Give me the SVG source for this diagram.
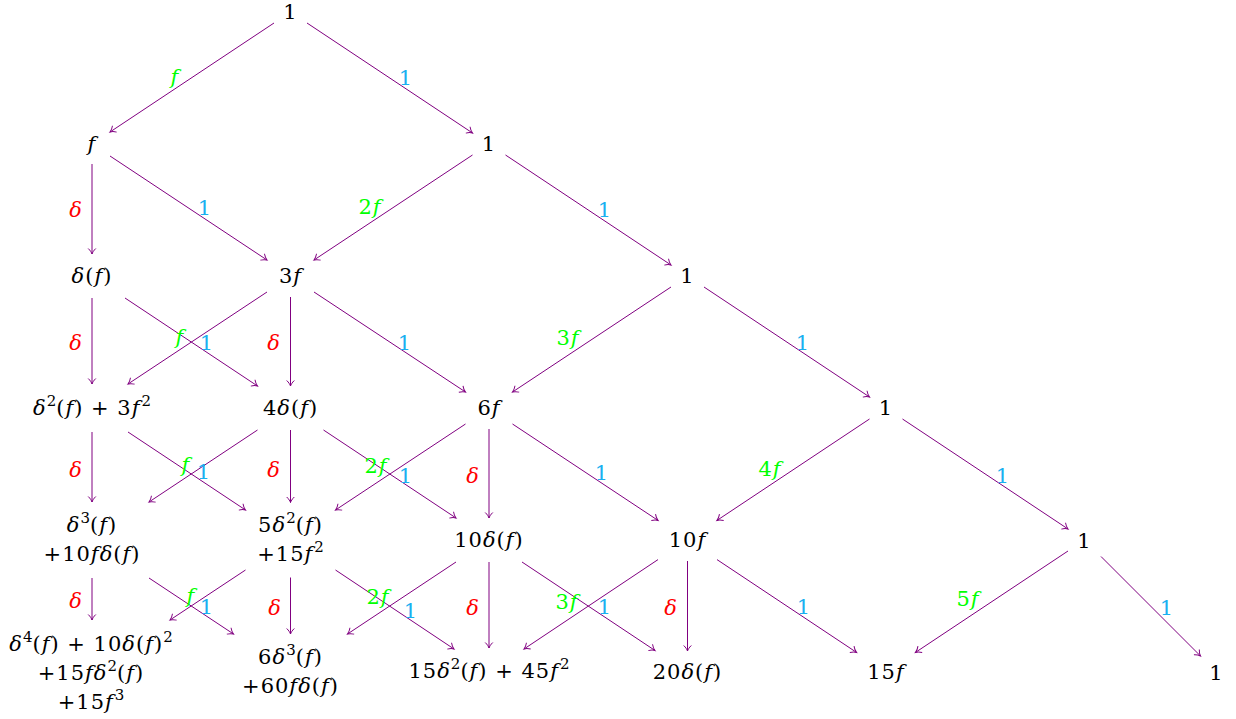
<svg xmlns="http://www.w3.org/2000/svg" width="1236" height="719" viewBox="0 0 1236 719">
<style>
.n{font-family:"DejaVu Serif",serif;font-size:21px;letter-spacing:1px;fill:#000;text-anchor:middle}
.i{font-style:italic}
.s{font-size:15px;letter-spacing:0}
.g{fill:#00ff00}
.b{fill:#1ab0f0}
.r{fill:#ff0000}
.e{stroke:#800080;stroke-width:1;fill:none;marker-end:url(#a)}
</style>
<defs>
<marker id="a" markerUnits="userSpaceOnUse" markerWidth="10" markerHeight="12" viewBox="-8 -6 10 12" refX="0" refY="0" orient="auto">
<path d="M -5.5,-3.8 C -3.5,-1.6 -1.2,-0.4 0,0 C -1.2,0.4 -3.5,1.6 -5.5,3.8" stroke="#800080" stroke-width="1" fill="none"/>
</marker>
</defs>
<rect width="1236" height="719" fill="#fff"/>
<g id="connectors">
<path class="e" d="M274,23 L110,132"/>
<path class="e" d="M307,23 L472.5,133"/>
<path class="e" d="M92,164 L92,254"/>
<path class="e" d="M110,156 L267,260"/>
<path class="e" d="M472.5,155 L314,260"/>
<path class="e" d="M505.5,155 L671,265"/>
<path class="e" d="M92,298 L92,384"/>
<path class="e" d="M125,298 L257.5,386"/>
<path class="e" d="M267,292 L128,384"/>
<path class="e" d="M290.5,297 L290.5,386"/>
<path class="e" d="M314,292 L465.5,392"/>
<path class="e" d="M671,287 L512.5,392"/>
<path class="e" d="M704,287 L869.5,397"/>
<path class="e" d="M92,432 L92,502"/>
<path class="e" d="M128,432 L245.5,510"/>
<path class="e" d="M257.5,430 L149,502"/>
<path class="e" d="M290.5,430 L290.5,502.5"/>
<path class="e" d="M323.5,430 L456,518"/>
<path class="e" d="M465.5,424 L335.5,510"/>
<path class="e" d="M489,429 L489,518"/>
<path class="e" d="M512.5,424 L658,520.4"/>
<path class="e" d="M869.5,419 L717,520.4"/>
<path class="e" d="M902.5,419 L1068,529"/>
<path class="e" d="M92,578 L92,620"/>
<path class="e" d="M149,578 L233.5,634"/>
<path class="e" d="M245.5,570 L170,620"/>
<path class="e" d="M290.5,577.5 L290.5,634"/>
<path class="e" d="M335.5,570 L454,649"/>
<path class="e" d="M456,562 L347.5,634"/>
<path class="e" d="M489,562 L489,648"/>
<path class="e" d="M522,562 L655,650.5"/>
<path class="e" d="M658,559.6 L524,649"/>
<path class="e" d="M687.5,561 L687.5,651"/>
<path class="e" d="M717,559.6 L856.5,652.4"/>
<path class="e" d="M1068,551 L915.5,652.4"/>
<path class="e" d="M1101,556.5 L1200.5,656"/>
</g>
<g id="edge-labels">
<text class="n g i" x="175" y="84">f</text>
<text class="n b" x="406" y="85">1</text>
<text class="n r i" x="76" y="217">δ</text>
<text class="n b" x="205" y="215">1</text>
<text class="n g" x="370" y="214">2<tspan class="i">f</tspan></text>
<text class="n b" x="605" y="217">1</text>
<text class="n g" x="568" y="345">3<tspan class="i">f</tspan></text>
<text class="n b" x="803" y="350">1</text>
<text class="n r i" x="76" y="350">δ</text>
<text class="n b" x="207" y="350">1</text>
<text class="n g i" x="180" y="344">f</text>
<text class="n r i" x="274" y="350">δ</text>
<text class="n b" x="405" y="350">1</text>
<text class="n r i" x="76" y="477">δ</text>
<text class="n g i" x="186" y="472">f</text>
<text class="n b" x="204" y="479">1</text>
<text class="n r i" x="274" y="477">δ</text>
<text class="n g" x="376" y="473">2<tspan class="i">f</tspan></text>
<text class="n b" x="406" y="483">1</text>
<text class="n r i" x="473" y="483">δ</text>
<text class="n b" x="602" y="480">1</text>
<text class="n g" x="770" y="476">4<tspan class="i">f</tspan></text>
<text class="n b" x="1003" y="483">1</text>
<text class="n r i" x="76" y="608">δ</text>
<text class="n g i" x="191" y="603">f</text>
<text class="n b" x="207" y="614">1</text>
<text class="n r i" x="275" y="615">δ</text>
<text class="n g" x="378" y="604">2<tspan class="i">f</tspan></text>
<text class="n b" x="411" y="618">1</text>
<text class="n r i" x="473" y="615">δ</text>
<text class="n g" x="567" y="609">3<tspan class="i">f</tspan></text>
<text class="n b" x="605" y="614">1</text>
<text class="n r i" x="671" y="615">δ</text>
<text class="n b" x="804" y="614">1</text>
<text class="n g" x="968" y="606">5<tspan class="i">f</tspan></text>
<text class="n b" x="1167" y="615">1</text>
</g>
<g id="n0"><text class="n" x="290.5" y="19">1</text></g>
<g id="n1a"><text class="n i" x="92" y="151">f</text></g>
<g id="n1b"><text class="n" x="489" y="151">1</text></g>
<g id="n2a"><text class="n" x="92" y="283"><tspan class="i">δ</tspan>(<tspan class="i">f</tspan>)</text></g>
<g id="n2b"><text class="n" x="290.5" y="283">3<tspan class="i">f</tspan></text></g>
<g id="n2c"><text class="n" x="687.5" y="283">1</text></g>
<g id="n3a"><text class="n" x="92" y="415"><tspan class="i">δ</tspan><tspan class="s" dy="-9">2</tspan><tspan dy="9">(</tspan><tspan class="i">f</tspan>) + 3<tspan class="i">f</tspan><tspan class="s" dx="1" dy="-9">2</tspan></text></g>
<g id="n3b"><text class="n" x="290.5" y="415">4<tspan class="i">δ</tspan>(<tspan class="i">f</tspan>)</text></g>
<g id="n3c"><text class="n" x="489" y="415">6<tspan class="i">f</tspan></text></g>
<g id="n3d"><text class="n" x="886" y="415">1</text></g>
<g id="n4a">
<text class="n" x="92" y="532"><tspan class="i">δ</tspan><tspan class="s" dy="-9">3</tspan><tspan dy="9">(</tspan><tspan class="i">f</tspan>)</text>
<text class="n" x="92" y="561">+10<tspan class="i">fδ</tspan>(<tspan class="i">f</tspan>)</text>
</g>
<g id="n4b">
<text class="n" x="290.5" y="532">5<tspan class="i">δ</tspan><tspan class="s" dy="-9">2</tspan><tspan dy="9">(</tspan><tspan class="i">f</tspan>)</text>
<text class="n" x="290.5" y="561">+15<tspan class="i">f</tspan><tspan class="s" dx="1" dy="-9">2</tspan></text>
</g>
<g id="n4c"><text class="n" x="489" y="547">10<tspan class="i">δ</tspan>(<tspan class="i">f</tspan>)</text></g>
<g id="n4d"><text class="n" x="687.5" y="547">10<tspan class="i">f</tspan></text></g>
<g id="n4e"><text class="n" x="1084.5" y="548">1</text></g>
<g id="n5a">
<text class="n" x="91" y="651"><tspan class="i">δ</tspan><tspan class="s" dy="-9">4</tspan><tspan dy="9">(</tspan><tspan class="i">f</tspan>) + 10<tspan class="i">δ</tspan>(<tspan class="i">f</tspan>)<tspan class="s" dy="-9">2</tspan></text>
<text class="n" x="91" y="680">+15<tspan class="i">fδ</tspan><tspan class="s" dy="-9">2</tspan><tspan dy="9">(</tspan><tspan class="i">f</tspan>)</text>
<text class="n" x="91" y="709">+15<tspan class="i">f</tspan><tspan class="s" dx="1" dy="-9">3</tspan></text>
</g>
<g id="n5b">
<text class="n" x="290.5" y="664">6<tspan class="i">δ</tspan><tspan class="s" dy="-9">3</tspan><tspan dy="9">(</tspan><tspan class="i">f</tspan>)</text>
<text class="n" x="290.5" y="693">+60<tspan class="i">fδ</tspan>(<tspan class="i">f</tspan>)</text>
</g>
<g id="n5c"><text class="n" x="489" y="678">15<tspan class="i">δ</tspan><tspan class="s" dy="-9">2</tspan><tspan dy="9">(</tspan><tspan class="i">f</tspan>) + 45<tspan class="i">f</tspan><tspan class="s" dx="1" dy="-9">2</tspan></text></g>
<g id="n5d"><text class="n" x="687.5" y="679">20<tspan class="i">δ</tspan>(<tspan class="i">f</tspan>)</text></g>
<g id="n5e"><text class="n" x="886" y="679">15<tspan class="i">f</tspan></text></g>
<g id="n5f"><text class="n" x="1216.5" y="680">1</text></g>
</svg>
